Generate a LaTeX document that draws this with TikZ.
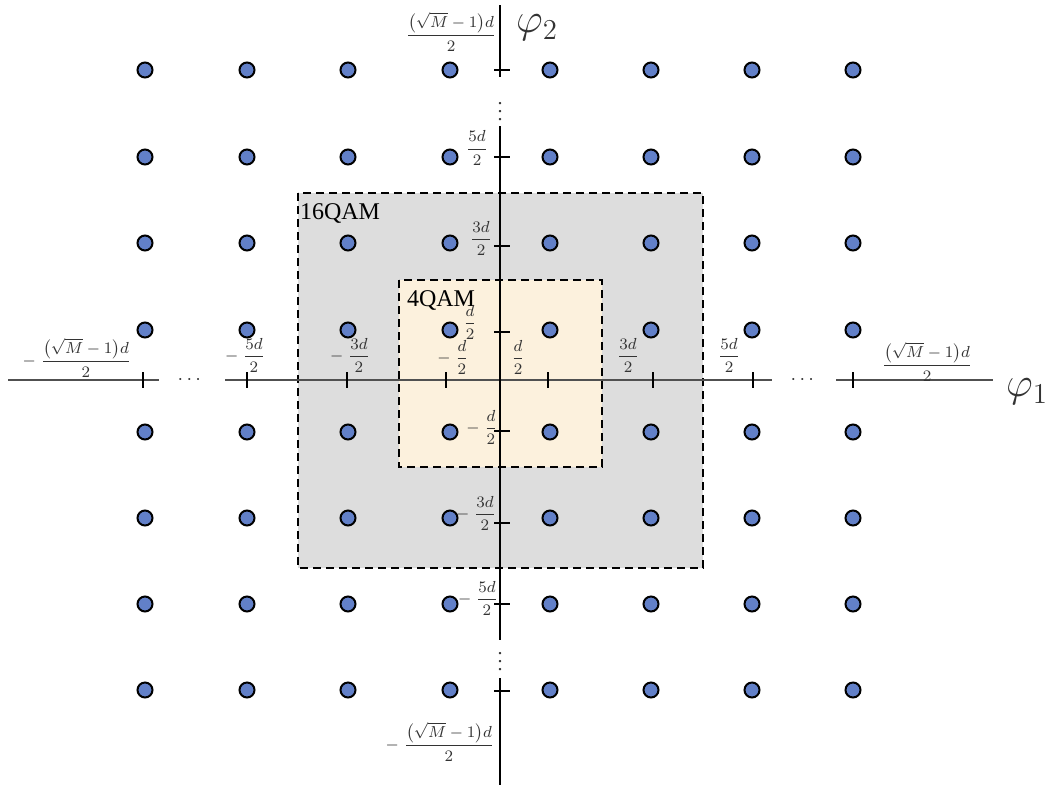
\documentclass[tikz,border=0pt]{standalone}
\usepackage{fontspec}
\setmainfont{Liberation Serif}
\usepackage{amsmath}
\usetikzlibrary{positioning}

\definecolor{ptblue}{RGB}{98,128,200}
\definecolor{boxgray}{RGB}{221,221,221}
\definecolor{boxbeige}{RGB}{252,241,221}
\definecolor{axgray}{RGB}{80,80,80}

\newcommand{\bigfr}{\dfrac{\bigl(\sqrt{M}-1\bigr)d}{2}}

\begin{document}
\begin{tikzpicture}[x=0.5pt,y=-0.5pt,
  dot/.style={circle,draw=black,line width=1pt,fill=ptblue,inner sep=0pt,minimum size=7.5pt},
  lbl/.style={inner sep=0pt,font=\footnotesize,text=black!80},
  box/.style={line width=1.2pt,dash pattern=on 4pt off 2.5pt},
  tick/.style={line width=1pt}]

\useasboundingbox (0,0) rectangle (1058,788);

% Области 16QAM и 4QAM
\draw[box,fill=boxgray] (298,193) rectangle (703,568);
\draw[box,fill=boxbeige] (399,280) rectangle (602,467);
\node[inner sep=0pt,font=\large] (q16) at (340,213) {16QAM};
\node[inner sep=0pt,font=\large] (q4) at (441,300) {4QAM};

% Оси
\coordinate (h0) at (8,380);   \coordinate (h1) at (159,380);
\coordinate (h2) at (225,380); \coordinate (h3) at (772,380);
\coordinate (h4) at (836,380); \coordinate (h5) at (993,380);
\draw[axgray, line width=0.6pt] (h0) -- (h1) (h2) -- (h3) (h4) -- (h5);
\coordinate (v0) at (500,5);   \coordinate (v1) at (500,77);
\coordinate (v2) at (500,126); \coordinate (v3) at (500,640);
\coordinate (v4) at (500,678); \coordinate (v5) at (500,785);
\draw[line width=0.6pt] (v0) -- (v1) (v2) -- (v3) (v4) -- (v5);
\node[lbl,font=\huge] (phi1) at (1027,392) {$\varphi_1$};
\node[lbl,font=\huge] (phi2) at (537,28) {$\varphi_2$};
\node[lbl,font=\normalsize] (hd1) at (191,380) {$\cdots$};
\node[lbl,font=\normalsize] (hd2) at (804,380) {$\cdots$};
\node[lbl,font=\normalsize] (vd1) at (500,106) {$\vdots$};
\node[lbl,font=\normalsize] (vd2) at (500,656) {$\vdots$};

% Деления
\foreach \x in {143,247,347,446,548,653,753,853}
  \draw[tick] (\x,372) -- (\x,388);
\foreach \y in {70,157,246,332,431,523,604,691}
  \draw[tick] (494,\y) -- (510,\y);

% Точки созвездия
\foreach \x [count=\i] in {145,247,348,450,550,651,752,853}
  \foreach \y [count=\j] in {70,157,243,330,432,518,604,690}
    \node[dot] (p\i\j) at (\x,\y) {};

% Подписи по оси 1
\node[lbl] (xm7) at (77,358) {$-\;\bigfr$};
\node[lbl] (xm5) at (245,355) {$-\;\dfrac{5d}{2}$};
\node[lbl] (xm3) at (350,355) {$-\;\dfrac{3d}{2}$};
\node[lbl] (xm1) at (453,357) {$-\;\dfrac{d}{2}$};
\node[lbl] (xp1) at (518,357) {$\dfrac{d}{2}$};
\node[lbl] (xp3) at (628,355) {$\dfrac{3d}{2}$};
\node[lbl] (xp5) at (729,355) {$\dfrac{5d}{2}$};
\node[lbl] (xp7) at (927,362) {$\bigfr$};

% Подписи по оси 2
\node[lbl] (yp7) at (451,32) {$\bigfr$};
\node[lbl] (yp5) at (477,148) {$\dfrac{5d}{2}$};
\node[lbl] (yp3) at (481,238) {$\dfrac{3d}{2}$};
\node[lbl] (yp1) at (470,322) {$\dfrac{d}{2}$};
\node[lbl] (ym1) at (482,427) {$-\;\dfrac{d}{2}$};
\node[lbl] (ym3) at (476,513) {$-\;\dfrac{3d}{2}$};
\node[lbl] (ym5) at (478,598) {$-\;\dfrac{5d}{2}$};
\node[lbl] (ym7) at (440,742) {$-\;\bigfr$};

\end{tikzpicture}
\end{document}
